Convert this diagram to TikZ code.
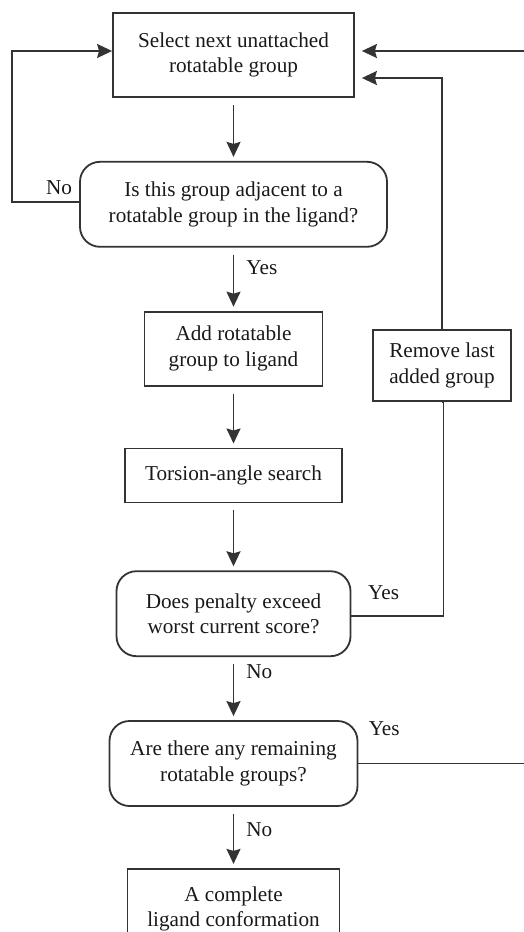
\documentclass[tikz,border=0pt]{standalone}
\usepackage{fontspec}
\setmainfont{Liberation Serif}
\usetikzlibrary{arrows.meta,positioning}

\begin{document}
\begin{tikzpicture}[x=0.5pt,y=-0.5pt,->,>={Stealth[length=7.5pt,width=7pt,inset=1pt]},
                    auto,node distance=31.5pt,line width=0.9pt,draw=black!80,
                    every node/.style={font=\fontsize{10.6}{12.8}\selectfont,text=black!90},
                    box node/.style={rectangle,draw=black!80,align=center,inner sep=2pt},
                    test node/.style={box node,rounded corners=10pt}]

  \useasboundingbox (0,0) rectangle (524,932);

  \node[box node,minimum width=120.5pt,minimum height=42pt] (1) at (233.5,55) {Select next unattached\\rotatable group};
  \node[test node,minimum width=153.5pt,minimum height=42.5pt] (2) [below=of 1] {Is this group adjacent to a\\rotatable group in the ligand?};
  \node[box node,minimum width=89pt,minimum height=37pt] (3) [below=of 2] {Add rotatable\\group to ligand};
  \node[box node,minimum width=108.5pt,minimum height=27pt] (4) [below=30.5pt of 3] {Torsion-angle search};
  \node[test node,minimum width=117pt,minimum height=42.5pt] (5) [below=33.5pt of 4] {Does penalty exceed\\worst current score?};
  \node[test node,minimum width=124pt,minimum height=42.5pt] (6) [below=of 5] {Are there any remaining\\rotatable groups?};
  \node[box node,minimum width=106pt,minimum height=40pt] (7) [below=30.5pt of 6] {A complete\\ligand conformation};
  \node[box node,minimum width=69pt,minimum height=35.5pt] (8) at (442,365.5) {Remove last\\added group};

  \path[shorten >=2pt,shorten <=3.5pt,every node/.append style={inner sep=6pt}]
    (1) edge (2)
    (2) edge node[pos=0.32] {Yes} (3)
    (3) edge (4)
    (4) edge (5)
    (5) edge node[pos=0.23] {No} (6)
    (6) edge node[pos=0.37] {No} (7)
;

  % loops back to the top box
  \draw ([yshift=1pt]2.west) -- node[above,pos=0.3] {No} ++(-67,0) |- ([yshift=2pt]1.west);
  \draw[-] ([yshift=-1pt]5.east) -- node[above,pos=0.35,yshift=4pt] {Yes} ++(92,0) |- (8.south);
  \draw[shorten >=3.5pt] (8.north) |- ([yshift=-11.5pt]1.east);
  \draw[shorten >=3.5pt] (6.east) -- node[above,pos=0.15,yshift=10pt] {Yes} ++(172,0) |- ([yshift=2pt]1.east);
\end{tikzpicture}
\end{document}
